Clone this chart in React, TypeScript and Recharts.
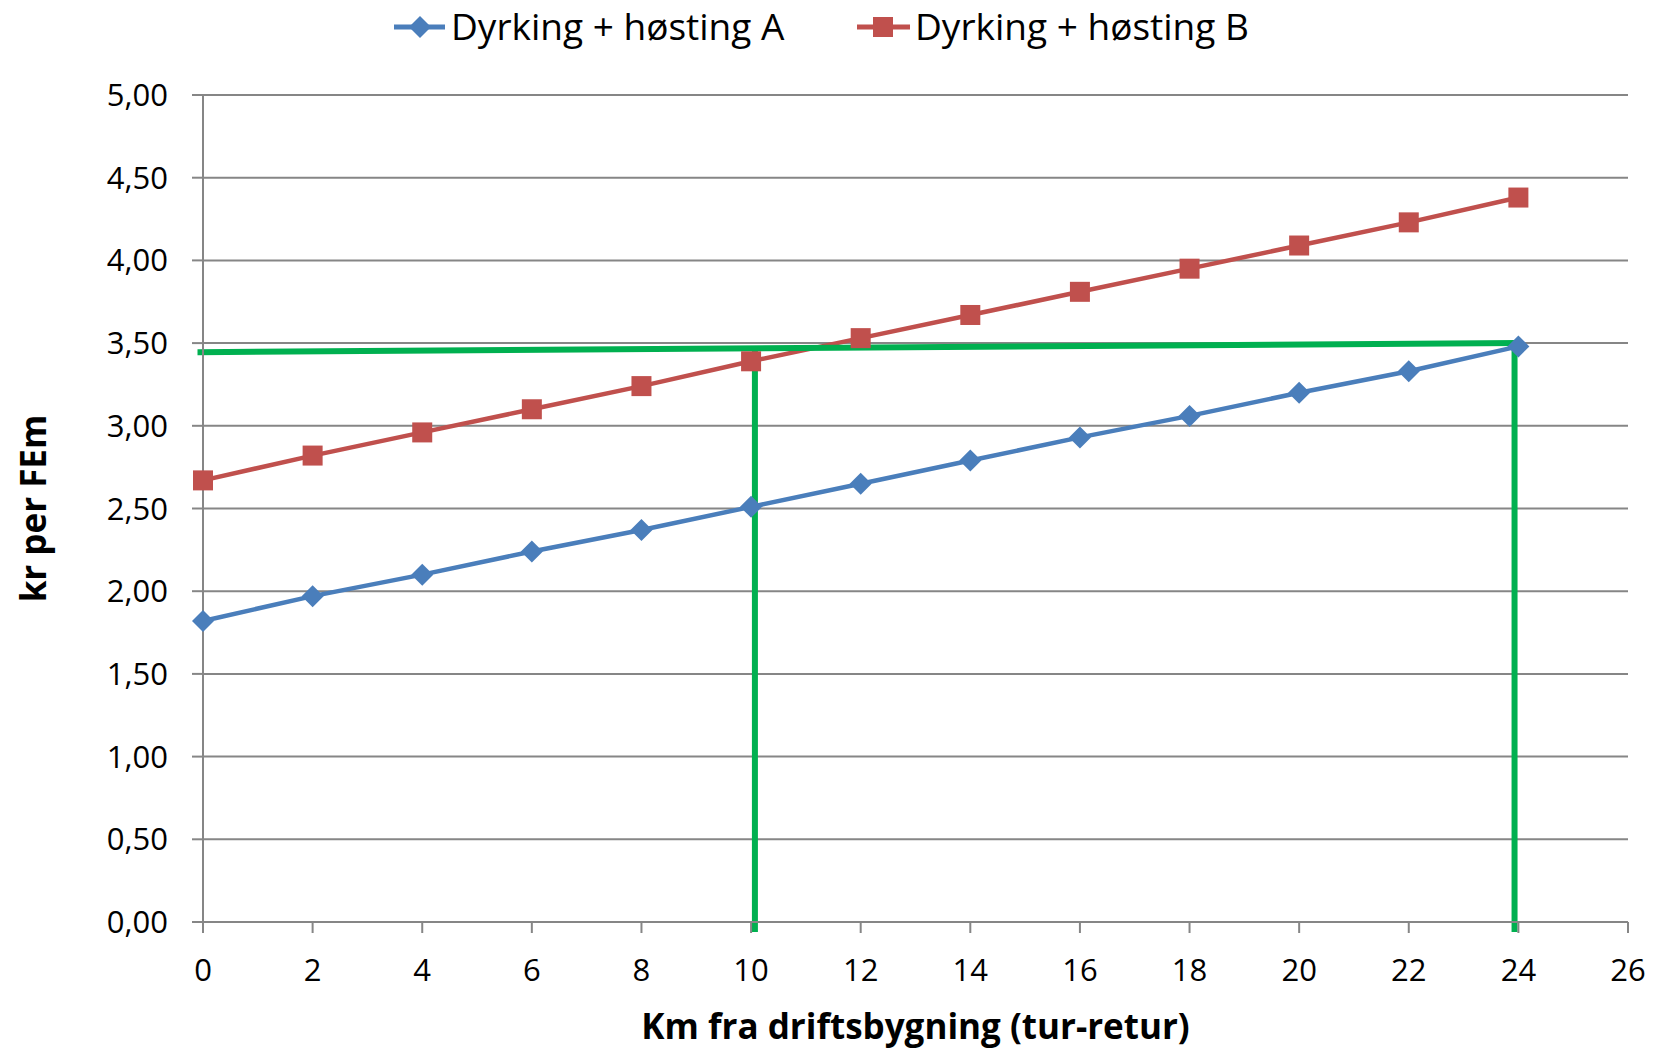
import { CartesianGrid, Line, LineChart, ReferenceLine, XAxis, YAxis } from "recharts";

const km = [0, 2, 4, 6, 8, 10, 12, 14, 16, 18, 20, 22, 24];
const seriesA = [1.82, 1.97, 2.1, 2.24, 2.37, 2.51, 2.65, 2.79, 2.93, 3.06, 3.2, 3.33, 3.48];
const seriesB = [2.67, 2.82, 2.96, 3.1, 3.24, 3.39, 3.53, 3.67, 3.81, 3.95, 4.09, 4.23, 4.38];
const seriesNames = ["Dyrking + høsting A", "Dyrking + høsting B"];
const xTicks = [0, 2, 4, 6, 8, 10, 12, 14, 16, 18, 20, 22, 24, 26];
const yTicks = [0, 0.5, 1, 1.5, 2, 2.5, 3, 3.5, 4, 4.5, 5];

// green helper lines drawn on top of the chart (km, kr)
const greenHorizontal = [{ x: -0.1, y: 3.445 }, { x: 24, y: 3.5 }];
const greenVertical10 = [{ x: 10.07, y: 3.48 }, { x: 10.07, y: -0.06 }];
const greenVertical24 = [{ x: 23.93, y: 3.5 }, { x: 23.93, y: -0.06 }];

const BLUE = "#4A7EBB";
const RED = "#C0504D";
const GREEN = "#00B050";
const GRAY = "#868686";
const FONT = "'Open Sans', sans-serif";

const data = km.map((k, i) => ({ km: k, a: seriesA[i], b: seriesB[i] }));

function Diamond({ cx, cy, fill }: { cx?: number; cy?: number; fill: string }) {
  if (cx == null || cy == null) return null;
  const r = 11;
  return <path d={`M${cx},${cy - r}L${cx + r},${cy}L${cx},${cy + r}L${cx - r},${cy}Z`} fill={fill} />;
}

function Square({ cx, cy, fill }: { cx?: number; cy?: number; fill: string }) {
  if (cx == null || cy == null) return null;
  const s = 10;
  return <rect x={cx - s} y={cy - s} width={s * 2} height={s * 2} fill={fill} />;
}

function YTitle({ viewBox }: any) {
  const cy = viewBox.y + viewBox.height / 2;
  return (
    <text x={32} y={cy} transform={`rotate(-90, 32, ${cy})`} textAnchor="middle" dominantBaseline="central" fontFamily={FONT} fontWeight={700} fontSize={35} fill="#000">
      kr per FEm
    </text>
  );
}

function ChartLegend() {
  return (
    <svg width={1667} height={60} style={{ position: "absolute", left: 0, top: 0 }}>
      <line x1={394} x2={445} y1={27} y2={27} stroke={BLUE} strokeWidth={5} />
      <Diamond cx={420} cy={27} fill={BLUE} />
      <text x={451} y={40} fontFamily={FONT} fontSize={37} fill="#000">{seriesNames[0]}</text>
      <line x1={857} x2={910} y1={27} y2={27} stroke={RED} strokeWidth={5} />
      <Square cx={883} cy={27} fill={RED} />
      <text x={915} y={40} fontFamily={FONT} fontSize={37} fill="#000">{seriesNames[1]}</text>
    </svg>
  );
}

export default function App() {
  return (
    <div style={{ position: "absolute", left: 0, top: 0, width: 1667, height: 1050, background: "#fff" }}>
      <LineChart width={1667} height={1050} data={data} margin={{ top: 95, right: 39, bottom: 0, left: 0 }}>
        <CartesianGrid vertical={false} stroke={GRAY} strokeWidth={2} />
        <XAxis
          dataKey="km"
          type="number"
          domain={[0, 26]}
          ticks={xTicks}
          height={128}
          tickSize={11}
          tickMargin={26}
          axisLine={{ stroke: GRAY, strokeWidth: 2 }}
          tickLine={{ stroke: GRAY, strokeWidth: 2 }}
          tick={{ fill: "#000", fontSize: 31, fontFamily: FONT }}
          label={{ value: "Km fra driftsbygning (tur-retur)", position: "insideBottom", offset: 11, fill: "#000", fontSize: 35, fontWeight: 700, fontFamily: FONT }}
        />
        <YAxis
          type="number"
          domain={[0, 5]}
          ticks={yTicks}
          width={203}
          tickSize={11}
          tickMargin={24}
          axisLine={{ stroke: GRAY, strokeWidth: 2 }}
          tickLine={{ stroke: GRAY, strokeWidth: 2 }}
          tick={{ fill: "#000", fontSize: 31, fontFamily: FONT }}
          tickFormatter={(v: number) => v.toFixed(2).replace(".", ",")}
          label={{ content: YTitle }}
        />
        <Line dataKey="a" name={seriesNames[0]} stroke={BLUE} strokeWidth={4.5} dot={<Diamond fill={BLUE} />} activeDot={false} isAnimationActive={false} />
        <Line dataKey="b" name={seriesNames[1]} stroke={RED} strokeWidth={4.5} dot={<Square fill={RED} />} activeDot={false} isAnimationActive={false} />
        <ReferenceLine segment={greenHorizontal} stroke={GREEN} strokeWidth={6} ifOverflow="visible" />
        <ReferenceLine segment={greenVertical10} stroke={GREEN} strokeWidth={6} ifOverflow="visible" />
        <ReferenceLine segment={greenVertical24} stroke={GREEN} strokeWidth={6} ifOverflow="visible" />
      </LineChart>
      <ChartLegend />
    </div>
  );
}
